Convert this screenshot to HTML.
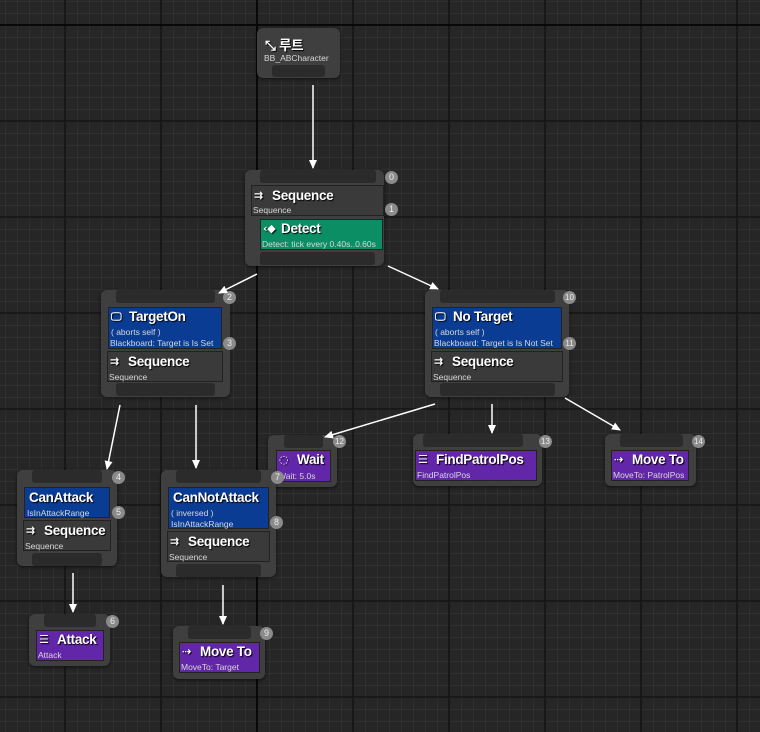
<!DOCTYPE html>
<html><head><meta charset="utf-8"><style>
*{margin:0;padding:0;box-sizing:border-box}
body{width:760px;height:732px;overflow:hidden;background:#262626;position:relative;font-family:"Liberation Sans","Noto Sans CJK KR",sans-serif}
.a{position:absolute}
.node{position:absolute;background:#3f3f3f;border-radius:6px;box-shadow:0 1px 3px rgba(0,0,0,.6)}
.pin{position:absolute;background:#2b2b2b;border-radius:3px}
.sec{position:absolute;border:1px solid #222;color:#fff}
.seq{background:#3a3a3a}
.blue{background:#0a3c94}
.green{background:#0b8e64}
.purple{background:#6226a8}
.t{position:absolute;font-weight:bold;font-size:13.5px;letter-spacing:-0.3px;color:#fff;text-shadow:1px 1px 1px #000;white-space:nowrap}
.s{position:absolute;font-size:8.5px;color:#d8d8d8;white-space:nowrap}
.b{position:absolute;width:13px;height:13px;border-radius:50%;background:#8a8a8a;color:#eee;font-size:9px;text-align:center;line-height:13px}
.ic{display:inline-block;width:15px;font-size:11px;vertical-align:1px;margin-right:3px;font-family:"DejaVu Sans",sans-serif}
</style></head><body>
<svg class="a" style="left:0;top:0" width="760" height="732">
<defs>
<pattern id="g" x="5" y="1" width="12" height="12" patternUnits="userSpaceOnUse"><path d="M0 0H12M0 0V12" stroke="#353535" stroke-width="1.2" fill="none"/></pattern>
<marker id="ar" markerWidth="10" markerHeight="10" refX="8" refY="5" orient="auto" markerUnits="userSpaceOnUse"><path d="M0 1L9 5L0 9z" fill="#fff"/></marker>
</defs>
<rect width="760" height="732" fill="url(#g)"/>
<g stroke="#141414" stroke-width="1.6">
<line x1="65" y1="0" x2="65" y2="732"/><line x1="161" y1="0" x2="161" y2="732"/><line x1="353" y1="0" x2="353" y2="732"/><line x1="449" y1="0" x2="449" y2="732"/><line x1="545" y1="0" x2="545" y2="732"/><line x1="641" y1="0" x2="641" y2="732"/><line x1="737" y1="0" x2="737" y2="732"/>
<line x1="0" y1="121" x2="760" y2="121"/><line x1="0" y1="217" x2="760" y2="217"/><line x1="0" y1="313" x2="760" y2="313"/><line x1="0" y1="409" x2="760" y2="409"/><line x1="0" y1="505" x2="760" y2="505"/><line x1="0" y1="601" x2="760" y2="601"/><line x1="0" y1="697" x2="760" y2="697"/>
</g>
<g stroke="#050505" stroke-width="1.8">
<line x1="257" y1="0" x2="257" y2="732"/><line x1="0" y1="25" x2="760" y2="25"/>
</g>
</svg>

<div class="node" style="left:257px;top:28px;width:83px;height:50px">
<div class="pin" style="left:15px;top:37px;width:53px;height:12px"></div>
<div class="t" style="left:8px;top:6px">⤡ 루트</div>
<div class="s" style="left:7px;top:25px">BB_ABCharacter</div></div>

<div class="node" style="left:245px;top:170px;width:139px;height:96px">
<div class="pin" style="left:15px;top:0;width:116px;height:13px"></div>
<div class="sec seq" style="left:6px;top:15px;width:133px;height:31px"><div class="t" style="left:2px;top:2px"><span class="ic">⇉</span>Sequence</div><div class="s" style="left:1px;top:19px">Sequence</div></div>
<div class="sec green" style="left:15px;top:49px;width:123px;height:31px"><div class="t" style="left:2px;top:1px"><span class="ic">‹◆</span>Detect</div><div class="s" style="left:1px;top:19px">Detect: tick every 0.40s..0.60s</div></div>
<div class="pin" style="left:15px;top:82px;width:115px;height:13px"></div></div>
<div class="b" style="left:385px;top:171px">0</div><div class="b" style="left:385px;top:203px">1</div>

<div class="node" style="left:101px;top:290px;width:129px;height:107px">
<div class="pin" style="left:15px;top:0;width:99px;height:13px"></div>
<div class="sec blue" style="left:7px;top:17px;width:114px;height:42px"><div class="t" style="left:2px;top:1px"><span class="ic">🖵</span>TargetOn</div><div class="s" style="left:2px;top:19px">( aborts self )</div><div class="s" style="left:1px;top:30px">Blackboard: Target is Is Set</div></div>
<div class="sec seq" style="left:6px;top:61px;width:116px;height:31px"><div class="t" style="left:2px;top:2px"><span class="ic">⇉</span>Sequence</div><div class="s" style="left:1px;top:20px">Sequence</div></div>
<div class="pin" style="left:15px;top:93px;width:99px;height:13px"></div></div>
<div class="b" style="left:223px;top:291px">2</div><div class="b" style="left:223px;top:337px">3</div>

<div class="node" style="left:425px;top:290px;width:144px;height:107px">
<div class="pin" style="left:15px;top:0;width:115px;height:13px"></div>
<div class="sec blue" style="left:7px;top:17px;width:130px;height:42px"><div class="t" style="left:2px;top:1px"><span class="ic">🖵</span>No Target</div><div class="s" style="left:2px;top:19px">( aborts self )</div><div class="s" style="left:1px;top:30px">Blackboard: Target is Is Not Set</div></div>
<div class="sec seq" style="left:6px;top:61px;width:132px;height:31px"><div class="t" style="left:2px;top:2px"><span class="ic">⇉</span>Sequence</div><div class="s" style="left:1px;top:20px">Sequence</div></div>
<div class="pin" style="left:15px;top:93px;width:115px;height:13px"></div></div>
<div class="b" style="left:563px;top:291px;font-size:8px">10</div><div class="b" style="left:563px;top:337px;font-size:8px">11</div>

<div class="node" style="left:268px;top:435px;width:69px;height:52px">
<div class="pin" style="left:16px;top:0;width:39px;height:13px"></div>
<div class="sec purple" style="left:8px;top:15px;width:55px;height:32px"><div class="t" style="left:2px;top:1px"><span class="ic">◌</span>Wait</div><div class="s" style="left:1px;top:20px">Wait: 5.0s</div></div></div>
<div class="b" style="left:333px;top:435px;font-size:8px">12</div>

<div class="node" style="left:413px;top:434px;width:129px;height:52px">
<div class="pin" style="left:10px;top:0;width:100px;height:13px"></div>
<div class="sec purple" style="left:2px;top:16px;width:122px;height:31px"><div class="t" style="left:2px;top:1px"><span class="ic">☰</span>FindPatrolPos</div><div class="s" style="left:1px;top:19px">FindPatrolPos</div></div></div>
<div class="b" style="left:539px;top:435px;font-size:8px">13</div>

<div class="node" style="left:605px;top:434px;width:91px;height:52px">
<div class="pin" style="left:15px;top:0;width:63px;height:13px"></div>
<div class="sec purple" style="left:6px;top:16px;width:78px;height:31px"><div class="t" style="left:2px;top:1px"><span class="ic">⇢</span>Move To</div><div class="s" style="left:1px;top:19px">MoveTo: PatrolPos</div></div></div>
<div class="b" style="left:692px;top:435px;font-size:8px">14</div>

<div class="node" style="left:17px;top:470px;width:100px;height:96px">
<div class="pin" style="left:15px;top:0;width:70px;height:13px"></div>
<div class="sec blue" style="left:7px;top:17px;width:86px;height:31px"><div class="t" style="left:4px;top:2px">CanAttack</div><div class="s" style="left:2px;top:20px">IsInAttackRange</div></div>
<div class="sec seq" style="left:6px;top:50px;width:88px;height:31px"><div class="t" style="left:2px;top:2px"><span class="ic">⇉</span>Sequence</div><div class="s" style="left:1px;top:20px">Sequence</div></div>
<div class="pin" style="left:15px;top:83px;width:70px;height:13px"></div></div>
<div class="b" style="left:112px;top:471px">4</div><div class="b" style="left:112px;top:506px">5</div>

<div class="node" style="left:161px;top:470px;width:115px;height:107px">
<div class="pin" style="left:15px;top:0;width:85px;height:13px"></div>
<div class="sec blue" style="left:7px;top:17px;width:101px;height:42px"><div class="t" style="left:4px;top:2px">CanNotAttack</div><div class="s" style="left:2px;top:20px">( inversed )</div><div class="s" style="left:2px;top:31px">IsInAttackRange</div></div>
<div class="sec seq" style="left:6px;top:61px;width:103px;height:31px"><div class="t" style="left:2px;top:2px"><span class="ic">⇉</span>Sequence</div><div class="s" style="left:1px;top:20px">Sequence</div></div>
<div class="pin" style="left:15px;top:94px;width:85px;height:13px"></div></div>
<div class="b" style="left:271px;top:471px">7</div><div class="b" style="left:270px;top:516px">8</div>

<div class="node" style="left:29px;top:614px;width:81px;height:52px">
<div class="pin" style="left:15px;top:0;width:52px;height:13px"></div>
<div class="sec purple" style="left:7px;top:16px;width:68px;height:31px"><div class="t" style="left:2px;top:1px"><span class="ic">☰</span>Attack</div><div class="s" style="left:1px;top:19px">Attack</div></div></div>
<div class="b" style="left:106px;top:615px">6</div>

<div class="node" style="left:173px;top:626px;width:92px;height:53px">
<div class="pin" style="left:15px;top:0;width:63px;height:13px"></div>
<div class="sec purple" style="left:6px;top:16px;width:81px;height:31px"><div class="t" style="left:2px;top:1px"><span class="ic">⇢</span>Move To</div><div class="s" style="left:1px;top:19px">MoveTo: Target</div></div></div>
<div class="b" style="left:260px;top:627px">9</div>

<svg class="a" style="left:0;top:0" width="760" height="732">
<g stroke="#fff" stroke-width="1.5" marker-end="url(#ar)" fill="none">
<line x1="313" y1="85" x2="313" y2="168"/>
<line x1="257" y1="274" x2="219" y2="293"/>
<line x1="388" y1="266" x2="438" y2="289"/>
<line x1="120" y1="405" x2="107" y2="469"/>
<line x1="196" y1="405" x2="196" y2="468"/>
<line x1="435" y1="404" x2="325" y2="437"/>
<line x1="492" y1="404" x2="492" y2="433"/>
<line x1="565" y1="398" x2="620" y2="430"/>
<line x1="73" y1="573" x2="73" y2="612"/>
<line x1="223" y1="585" x2="223" y2="624"/>
</g></svg>
</body></html>
